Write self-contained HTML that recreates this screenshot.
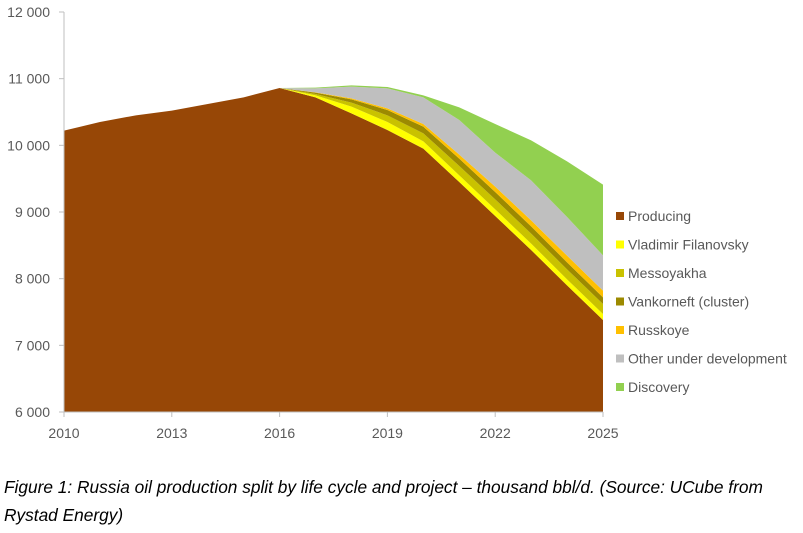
<!DOCTYPE html>
<html><head><meta charset="utf-8"><style>
body{margin:0;background:#fff;width:803px;height:528px;overflow:hidden;font-family:"Liberation Sans",sans-serif}
svg text{font-family:"Liberation Sans",sans-serif}
</style></head><body>
<svg id="chart" width="803" height="528" xmlns="http://www.w3.org/2000/svg"></svg>
<script>
const years=[2010,2011,2012,2013,2014,2015,2016,2017,2018,2019,2020,2021,2022,2023,2024,2025];
const producing=[10220,10350,10450,10520,10620,10720,10860,10720,10480,10230,9950,9450,8940,8430,7900,7380];
const filanovsky=[0,0,0,0,0,0,0,30,100,120,110,100,100,95,90,90];
const messoyakha=[0,0,0,0,0,0,0,20,60,100,120,140,150,150,150,150];
const vankorneft=[0,0,0,0,0,0,0,20,50,80,100,110,110,110,105,100];
const russkoye=[0,0,0,0,0,0,0,5,15,25,40,60,80,90,100,100];
const otherDev=[0,0,0,0,0,0,0,60,175,300,400,520,510,600,580,530];
const discovery=[0,0,0,0,0,0,0,10,20,20,30,190,430,600,835,1060];
const seriesNames=["Producing","Vladimir Filanovsky","Messoyakha","Vankorneft (cluster)","Russkoye","Other under development","Discovery"];
const yTicks=[6000,7000,8000,9000,10000,11000,12000];
const xTicks=[2010,2013,2016,2019,2022,2025];
const colors=["#974706","#ffff00","#c9c200","#9c8a00","#ffc000","#bfbfbf","#92d050"];
const series=[producing,filanovsky,messoyakha,vankorneft,russkoye,otherDev,discovery];
const NS="http://www.w3.org/2000/svg";
const svg=document.getElementById('chart');
const yMin=6000;
const x=v=>64+(v-2010)*(603-64)/15;
const y=v=>412-(Math.max(v,yMin)-yMin)*400/6000;
function mk(t,a,p){const e=document.createElementNS(NS,t);for(const k in a)e.setAttribute(k,a[k]);(p||svg).appendChild(e);return e;}
let base=years.map(()=>0);
series.forEach((s,i)=>{
  const top=base.map((b,j)=>b+s[j]);
  let d="M"+years.map((yr,j)=>x(yr)+","+y(top[j])).join(" L");
  for(let j=years.length-1;j>=0;j--)d+=" L"+x(years[j])+","+y(base[j]);
  const p=mk('path',{d:d+"Z",fill:colors[i]});
  
  
  base=top;
});
const ax=mk('line',{x1:64,y1:12,x2:64,y2:412,stroke:"#bfbfbf"});


const bx=mk('line',{x1:64,y1:412,x2:603,y2:412,stroke:"#bfbfbf"});


yTicks.forEach(v=>{
  mk('line',{x1:59,y1:y(v),x2:64,y2:y(v),stroke:"#bfbfbf"});
  const t=mk('text',{x:50,y:y(v)+5,"text-anchor":"end","font-size":"14",fill:"#595959"});
  t.textContent=v.toLocaleString('en').replace(',',' ');
  
  
});
xTicks.forEach(v=>{
  mk('line',{x1:x(v),y1:412,x2:x(v),y2:417,stroke:"#bfbfbf"});
  const t=mk('text',{x:x(v),y:438,"text-anchor":"middle","font-size":"14",fill:"#595959"});
  t.textContent=v;
  
  
});
seriesNames.forEach((n,i)=>{
  const g=mk('g',{});
  
  
  const yy=217+i*28.5;
  mk('rect',{x:616,y:yy-5,width:8,height:8,fill:colors[i]},g);
  const t=mk('text',{x:628,y:yy+4,"font-size":"14",fill:"#595959"},g);
  t.textContent=n;
});
["Figure 1: Russia oil production split by life cycle and project – thousand bbl/d. (Source: UCube from","Rystad Energy)"].forEach((s,i)=>{
  const t=mk('text',{x:4,y:493+i*28,"font-size":"17.3","font-style":"italic",fill:"#000"});
  t.textContent=s;
  
  
});
</script>
</body></html>
